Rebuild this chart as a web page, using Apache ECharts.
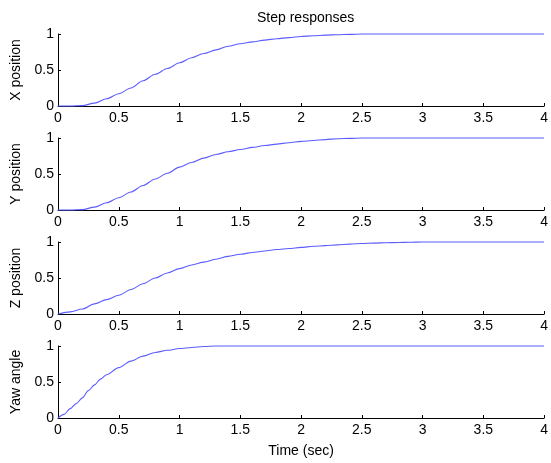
<!DOCTYPE html>
<html>
<head>
<meta charset="utf-8">
<script src="https://cdn.jsdelivr.net/npm/echarts@6/dist/echarts.min.js"></script>
<style>html,body{margin:0;padding:0;background:#fff}#c{width:551px;height:463px}</style>
</head>
<body>
<div id="c"></div>
<script>
var title = 'Step responses';
var xName = 'Time (sec)';
var panelNames = ['X position', 'Y position', 'Z position', 'Yaw angle'];
var xTicks = { min: 0, max: 4, interval: 0.5 };
var yTicks = { min: 0, max: 1, interval: 0.5 };

var tX = [0,0.1,0.2,0.3,0.4,0.5,0.6,0.7,0.8,0.9,1.0,1.1,1.2,1.3,1.4,1.5,1.6,1.7,1.8,1.9,2.0,2.1,2.2,2.3,2.4,2.5,3.0,3.5,4.0];
var xPos = [0,0,0.005,0.04,0.1,0.17,0.25,0.35,0.44,0.52,0.60,0.67,0.73,0.78,0.83,0.865,0.89,0.915,0.935,0.95,0.965,0.975,0.985,0.99,0.995,1.0,1.0,1.0,1.0];

var tY = [0,0.1,0.2,0.3,0.4,0.5,0.6,0.7,0.8,0.9,1.0,1.1,1.2,1.3,1.4,1.5,1.6,1.7,1.8,1.9,2.0,2.1,2.2,2.3,2.4,2.5,3.0,3.5,4.0];
var yPos = [0,0,0.005,0.04,0.1,0.17,0.25,0.34,0.43,0.51,0.595,0.66,0.72,0.77,0.81,0.84,0.87,0.895,0.915,0.935,0.953,0.965,0.978,0.99,0.995,1.0,1.0,1.0,1.0];

var tZ = [0,0.1,0.2,0.3,0.4,0.5,0.6,0.7,0.8,0.9,1.0,1.1,1.2,1.3,1.4,1.5,1.6,1.7,1.8,1.9,2.0,2.1,2.2,2.3,2.4,2.5,2.6,2.7,2.8,2.9,3.0,3.5,4.0];
var zPos = [0,0.03,0.07,0.14,0.2,0.26,0.34,0.42,0.5,0.57,0.63,0.68,0.72,0.76,0.8,0.83,0.855,0.875,0.895,0.91,0.925,0.94,0.95,0.96,0.97,0.98,0.985,0.99,0.993,0.996,1.0,1.0,1.0];

var tYaw = [0,0.05,0.1,0.15,0.2,0.25,0.3,0.35,0.4,0.5,0.6,0.7,0.8,0.9,1.0,1.1,1.2,1.3,2.0,3.0,4.0];
var yaw = [0,0.05,0.13,0.2,0.28,0.38,0.46,0.54,0.6,0.7,0.79,0.86,0.91,0.94,0.965,0.98,0.993,1.0,1.0,1.0,1.0];

var seriesT = [tX, tY, tZ, tYaw];
var seriesV = [xPos, yPos, zPos, yaw];

var FONT = 'Liberation Sans, Arial, sans-serif';
var grids = [], xAxes = [], yAxes = [], series = [];
for (var i = 0; i < 4; i++) {
  grids.push({ left: 58, right: 4.5, top: 34 + 104 * i, height: 72, containLabel: false });
  xAxes.push({
    type: 'value', gridIndex: i, min: xTicks.min, max: xTicks.max, interval: xTicks.interval,
    axisLine: { lineStyle: { color: '#000', width: 1 } },
    axisTick: { inside: true, length: 3, lineStyle: { color: '#000' } },
    axisLabel: { color: '#000', fontSize: 14, fontFamily: FONT, margin: 5, hideOverlap: false },
    splitLine: { show: false },
    name: i === 3 ? xName : '', nameLocation: 'middle', nameGap: 26,
    nameTextStyle: { color: '#000', fontSize: 14, fontFamily: FONT }
  });
  yAxes.push({
    type: 'value', gridIndex: i, min: yTicks.min, max: yTicks.max, interval: yTicks.interval,
    axisLine: { show: true, lineStyle: { color: '#000', width: 1 } },
    axisTick: { show: true, inside: true, length: 3, lineStyle: { color: '#000' } },
    axisLabel: { color: '#000', fontSize: 14, fontFamily: FONT, margin: 4 },
    splitLine: { show: false },
    name: panelNames[i], nameLocation: 'middle', nameGap: 31, nameRotate: 90,
    nameTextStyle: { color: '#000', fontSize: 14, fontFamily: FONT }
  });
  var d = seriesT[i].map(function (t, k) { return [t, seriesV[i][k]]; });
  series.push({
    type: 'line', xAxisIndex: i, yAxisIndex: i, data: d, showSymbol: false,
    smooth: 0.3, smoothMonotone: 'x', clip: false,
    lineStyle: { color: '#5c5cff', width: 1.1 }, animation: false
  });
}

var chart = echarts.init(document.getElementById('c'), null, { renderer: 'canvas' });
chart.setOption({
  animation: false,
  backgroundColor: '#fff',
  title: { text: title, left: 252, top: 6,
    textStyle: { color: '#000', fontSize: 14, fontWeight: 'normal', fontFamily: FONT } },
  grid: grids, xAxis: xAxes, yAxis: yAxes, series: series
});
</script>
</body>
</html>
